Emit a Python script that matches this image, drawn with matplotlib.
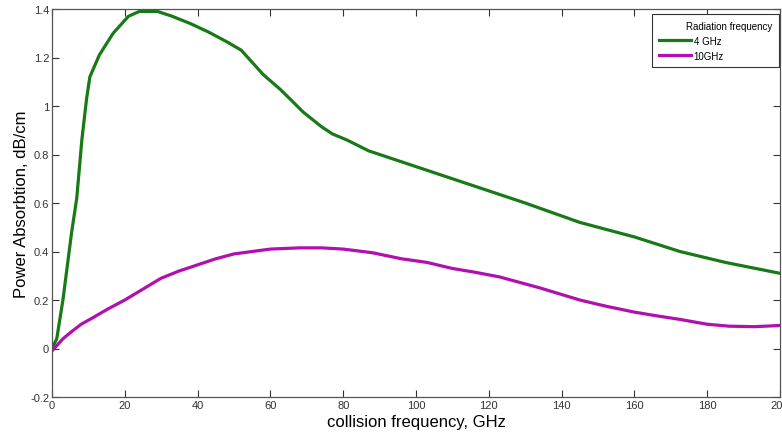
import matplotlib.pyplot as plt
import numpy as np

plt.rcParams['font.family'] = ['Liberation Sans', 'DejaVu Sans']

# Data
x_4ghz = [0, 1.3, 3, 5.4, 6.8, 8.2, 9.5, 10.4, 13, 16.8, 21, 24, 29, 33, 38, 43,
          48, 52, 55, 58, 62.6, 66, 69, 74, 77, 81, 87, 92, 100, 118, 130, 145, 160, 172.5, 185, 200]
y_4ghz = [0, 0.04, 0.2, 0.48, 0.62, 0.86, 1.03, 1.12, 1.21, 1.30, 1.37, 1.39, 1.39, 1.37, 1.34, 1.305,
          1.265, 1.23, 1.18, 1.13, 1.07, 1.02, 0.975, 0.915, 0.885, 0.86, 0.815, 0.79, 0.75, 0.66, 0.60,
          0.52, 0.46, 0.40, 0.355, 0.31]

x_10ghz = [0, 3, 5, 8, 11, 15, 20, 25, 30, 35, 41, 45, 50, 55, 60, 68, 74, 80, 88, 96, 103,
           110, 116, 123, 134, 145, 152, 160, 166, 172.5, 180, 186, 193, 200]
y_10ghz = [-0.01, 0.04, 0.065, 0.10, 0.125, 0.16, 0.2, 0.245, 0.29, 0.32, 0.35, 0.37, 0.39, 0.40,
           0.41, 0.415, 0.415, 0.41, 0.395, 0.37, 0.355, 0.33, 0.315, 0.295, 0.25, 0.20, 0.175,
           0.15, 0.135, 0.12, 0.10, 0.092, 0.09, 0.095]

xticks = np.arange(0, 201, 20)
yticks = [-0.2, 0, 0.2, 0.4, 0.6, 0.8, 1, 1.2, 1.4]
ytick_labels = ['-0.2', '0', '0.2', '0.4', '0.6', '0.8', '1', '1.2', '1.4']

fig = plt.figure(figsize=(7.82, 4.39), dpi=100)
ax = fig.add_axes([52 / 782, 41 / 439, 728 / 782, 388 / 439])

ax.plot(x_4ghz, y_4ghz, color='#177a17', lw=2.3, label='4 GHz', solid_joinstyle='round')
ax.plot(x_10ghz, y_10ghz, color='#b010b0', lw=2.3, label='10GHz', solid_joinstyle='round')

ax.set_xlim(0, 200)
ax.set_ylim(-0.2, 1.4)
ax.set_xticks(xticks)
ax.set_xticklabels([str(t) for t in xticks])
ax.set_yticks(yticks)
ax.set_yticklabels(ytick_labels)
ax.tick_params(direction='in', length=5, width=0.8, labelsize=8, colors='#333333',
               top=True, right=True, pad=2)

for s in ax.spines.values():
    s.set_color('#555555')
    s.set_linewidth(0.9)

ax.set_xlabel('collision frequency, GHz', fontsize=12, labelpad=3)
ax.set_ylabel('Power Absorbtion, dB/cm', fontsize=12, labelpad=1)

leg = ax.legend(title='Radiation frequency', loc='upper left', fontsize=7,
                title_fontsize=7, fancybox=False, edgecolor='#333333', framealpha=1,
                handlelength=3.3, handletextpad=0.3, borderpad=0.7, labelspacing=0.5,
                mode='expand', bbox_to_anchor=(0.824, 0.858, 0.1745, 0.129), borderaxespad=0)
leg._legend_box.align = 'right'
leg.get_frame().set_linewidth(0.8)

fig.savefig('out.png', dpi=100)
